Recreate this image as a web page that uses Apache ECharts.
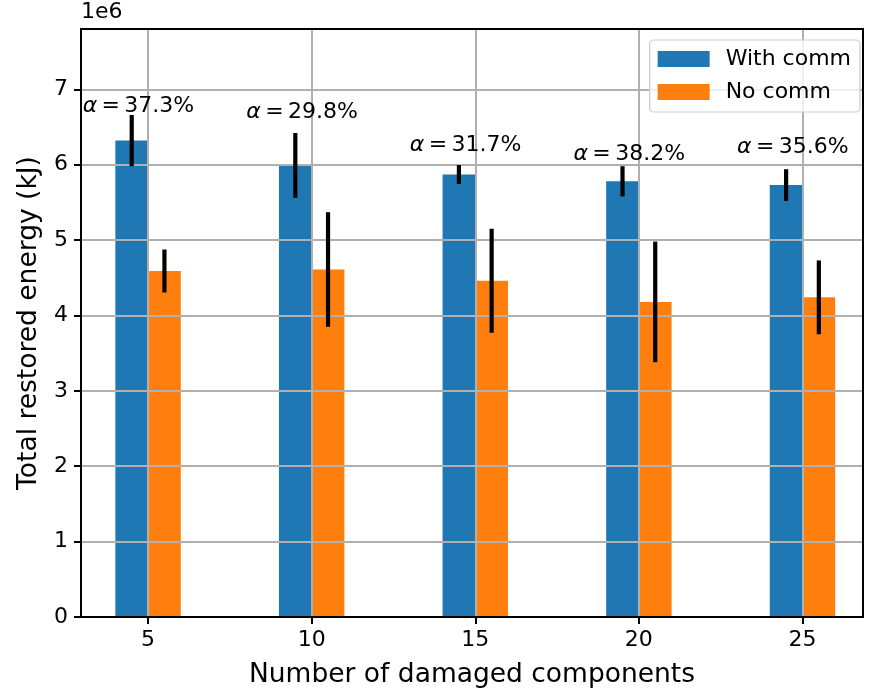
<!DOCTYPE html>
<html>
<head>
<meta charset="utf-8">
<script src="https://cdn.jsdelivr.net/npm/echarts@6/dist/echarts.min.js"></script>
<style>html,body{margin:0;padding:0;background:#fff;}#c{width:875px;height:691px;}</style>
</head>
<body>
<div id="c"></div>
<script>
// values in units of 1e6 kJ
const categories = [5, 10, 15, 20, 25];
const withComm = [6.32, 5.99, 5.87, 5.78, 5.73];
const withCommErr = [0.34, 0.43, 0.125, 0.2, 0.21];
const noComm = [4.59, 4.61, 4.46, 4.18, 4.24];
const noCommErr = [0.285, 0.76, 0.69, 0.8, 0.49];
const alphaLabels = ['37.3%', '29.8%', '31.7%', '38.2%', '35.6%'];
const alphaY = [6.69, 6.61, 6.18, 6.06, 6.15];
const xTicks = [5, 10, 15, 20, 25];
const yTicks = [0, 1, 2, 3, 4, 5, 6, 7];

const FONT = 'DejaVu Sans';
const BLUE = '#1f77b4', ORANGE = '#ff7f0e';

function barSeries(name, vals, off, color) {
  return {
    name: name, type: 'custom', z: 2,
    itemStyle: { color: color },
    encode: { x: 0, y: 1 },
    data: categories.map((c, i) => [c, vals[i]]),
    renderItem: function (params, api) {
      const x = api.value(0), v = api.value(1);
      const p0 = api.coord([x + off - 0.5, v]);
      const p1 = api.coord([x + off + 0.5, 0]);
      return { type: 'rect', shape: { x: p0[0], y: p0[1], width: p1[0] - p0[0], height: p1[1] - p0[1] }, style: { fill: color } };
    }
  };
}
function errSeries(vals, errs, off) {
  return {
    type: 'custom', z: 6, silent: true,
    encode: { x: 0, y: 1 },
    data: categories.map((c, i) => [c, vals[i], errs[i]]),
    renderItem: function (params, api) {
      const x = api.value(0), v = api.value(1), e = api.value(2);
      const a = api.coord([x + off, v - e]);
      const b = api.coord([x + off, v + e]);
      return { type: 'line', shape: { x1: a[0], y1: a[1], x2: b[0], y2: b[1] }, style: { stroke: '#000', lineWidth: 4.2 } };
    }
  };
}

const chart = echarts.init(document.getElementById('c'), null, { renderer: 'canvas' });
chart.setOption({
  animation: false,
  backgroundColor: '#fff',
  textStyle: { fontFamily: FONT },
  grid: { left: 81, right: 12, top: 29, bottom: 74, containLabel: false, outerBoundsMode: 'none', show: true, borderColor: '#000', borderWidth: 2, backgroundColor: 'transparent', z: 4 },
  graphic: [{ type: 'text', left: 81, top: 1, style: { text: '1e6', font: '22px "DejaVu Sans"', fill: '#000' } }],
  legend: {
    orient: 'vertical', right: 15, top: 40, z: 10,
    padding: [8, 9, 9, 8], itemGap: 11, itemWidth: 52, itemHeight: 16,
    backgroundColor: 'rgba(255,255,255,0.8)', borderColor: '#cccccc', borderWidth: 1.2, borderRadius: 4,
    textStyle: { fontFamily: FONT, fontSize: 22, color: '#000', lineHeight: 22, padding: [0, 0, 0, 11] },
    data: [{ name: 'With comm', icon: 'rect' }, { name: 'No comm', icon: 'rect' }]
  },
  xAxis: {
    type: 'value', min: 2.95, max: 26.85, z: 3,
    name: 'Number of damaged components', nameLocation: 'middle', nameGap: 45,
    nameTextStyle: { fontFamily: FONT, fontSize: 26.5, color: '#000' },
    axisLine: { show: true, lineStyle: { color: '#000', width: 2 } },
    axisTick: { show: true, length: 7, customValues: xTicks, lineStyle: { color: '#000', width: 2 } },
    axisLabel: { customValues: xTicks, margin: 12, fontFamily: FONT, fontSize: 22, color: '#000' },
    splitLine: { show: true, lineStyle: { color: '#b0b0b0', width: 2 } }
  },
  yAxis: {
    type: 'value', min: 0, max: 7.8, z: 3,
    name: 'Total restored energy (kJ)', nameLocation: 'middle', nameGap: 38, nameRotate: 90,
    nameTextStyle: { fontFamily: FONT, fontSize: 26.5, color: '#000' },
    axisLine: { show: true, lineStyle: { color: '#000', width: 2 } },
    axisTick: { show: true, length: 7, customValues: yTicks, lineStyle: { color: '#000', width: 2 } },
    axisLabel: { customValues: yTicks, margin: 13, fontFamily: FONT, fontSize: 22, color: '#000' },
    splitLine: { show: true, lineStyle: { color: '#b0b0b0', width: 2 } }
  },
  series: [
    barSeries('With comm', withComm, -0.5, BLUE),
    barSeries('No comm', noComm, 0.5, ORANGE),
    errSeries(withComm, withCommErr, -0.5),
    errSeries(noComm, noCommErr, 0.5),
    {
      type: 'custom', z: 7, silent: true,
      encode: { x: 0, y: 1 },
      data: categories.map((c, i) => [c, alphaY[i], i]),
      renderItem: function (params, api) {
        const x = api.value(0), y = api.value(1), i = api.value(2);
        const p = api.coord([x - 2, y]);
        return {
          type: 'text', x: p[0], y: p[1] + 5,
          style: {
            text: '{a|α}\u2009=\u2009' + alphaLabels[i], align: 'left', verticalAlign: 'bottom',
            font: '22px "DejaVu Sans"', fill: '#000',
            rich: { a: { fontStyle: 'italic', fontFamily: FONT, fontSize: 22 } }
          }
        };
      }
    }
  ]
});
</script>
</body>
</html>
